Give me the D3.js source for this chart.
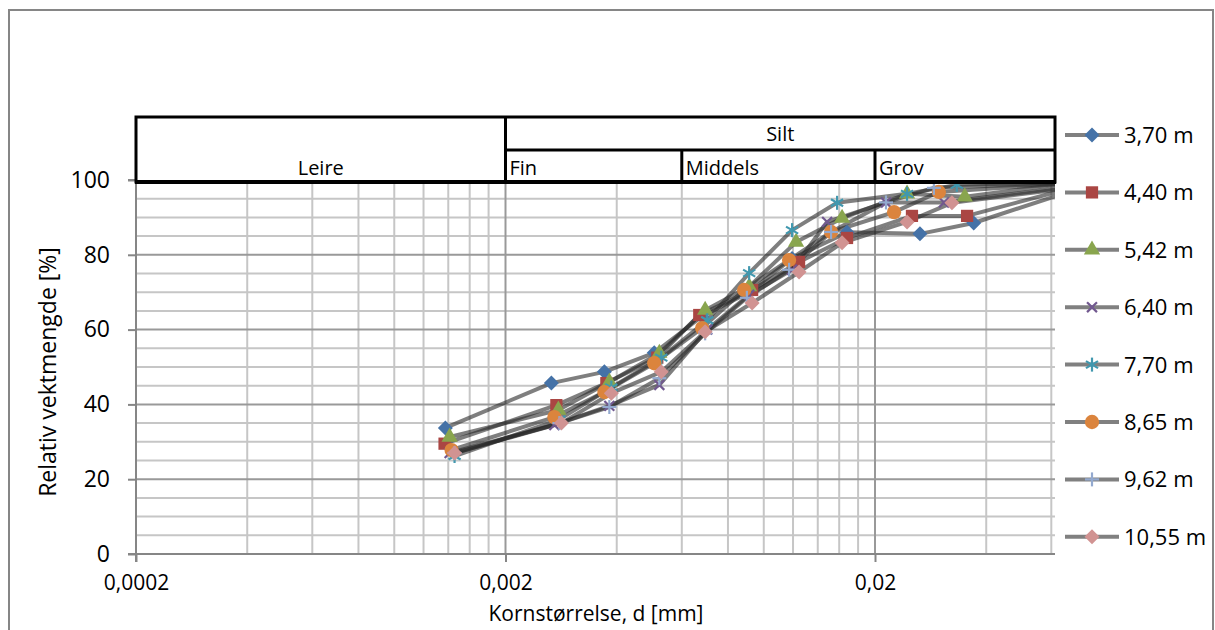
<!DOCTYPE html>
<html lang="no">
<head>
<meta charset="UTF-8">
<title>Kornfordeling</title>
<script src="https://d3js.org/d3.v7.min.js"></script>
<style>
    body { margin: 0; background: #fff; font-family: 'Open Sans', 'Liberation Sans', sans-serif; }
    svg text { fill: #000; }
</style>
</head>
<body>
<div id="chart"></div>
<script>
    // series names (depth)
    const seriesNames = ['3,70 m', '4,40 m', '5,42 m', '6,40 m', '7,70 m', '8,65 m', '9,62 m', '10,55 m'];

    // grain size [mm] per series
    const sizes370 = [0.001375, 0.002662, 0.003704, 0.005054, 0.00680, 0.00913, 0.01193, 0.01680, 0.02646, 0.0370, 0.063];
    const sizes440 = [0.001368, 0.002746, 0.003750, 0.005150, 0.00669, 0.00930, 0.01246, 0.01680, 0.02518, 0.0355, 0.063];
    const sizes542 = [0.001412, 0.002780, 0.003820, 0.005216, 0.00694, 0.00913, 0.01223, 0.01629, 0.02442, 0.0350, 0.063];
    const sizes640 = [0.001412, 0.002712, 0.003820, 0.005216, 0.00703, 0.00913, 0.01193, 0.01484, 0.02142, 0.03074, 0.063];
    const sizes770 = [0.001456, 0.002798, 0.003868, 0.005280, 0.00703, 0.00913, 0.01193, 0.01579, 0.02442, 0.0333, 0.063];
    const sizes865 = [0.001429, 0.002712, 0.003704, 0.005054, 0.00681, 0.00885, 0.01171, 0.01521, 0.02252, 0.02978, 0.063];
    const sizes962 = [0.001456, 0.002798, 0.003820, 0.005216, 0.00694, 0.00900, 0.01171, 0.01521, 0.02142, 0.02886, 0.063];
    const sizes1055 = [0.001456, 0.002834, 0.003868, 0.005280, 0.00694, 0.00930, 0.01246, 0.01629, 0.02442, 0.0323, 0.063];

    // relative mass passing [%]
    const pass370 = [33.7, 45.7, 48.7, 53.8, 63.5, 70.0, 79.0, 86.0, 85.6, 88.5, 96.0];
    const pass440 = [29.5, 39.8, 45.7, 52.5, 63.9, 70.6, 78.1, 84.5, 90.4, 90.4, 97.0];
    const pass542 = [31.3, 38.5, 46.0, 53.7, 65.2, 71.5, 83.4, 89.8, 96.3, 95.5, 98.8];
    const pass640 = [27.0, 34.5, 39.6, 45.2, 60.0, 69.3, 76.0, 88.8, 94.0, 94.0, 97.8];
    const pass770 = [26.2, 36.0, 44.5, 52.5, 62.5, 75.1, 86.6, 93.9, 96.3, 98.7, 99.3];
    const pass865 = [27.8, 36.6, 43.3, 51.0, 60.4, 70.6, 78.6, 86.1, 91.4, 96.8, 98.9];
    const pass962 = [27.0, 35.0, 39.3, 47.0, 59.0, 68.5, 76.0, 86.1, 94.0, 97.9, 99.0];
    const pass1055 = [27.0, 35.0, 43.0, 48.7, 59.4, 67.1, 75.4, 83.2, 88.8, 93.9, 97.5];

    const sizes = [sizes370, sizes440, sizes542, sizes640, sizes770, sizes865, sizes962, sizes1055];
    const passing = [pass370, pass440, pass542, pass640, pass770, pass865, pass962, pass1055];

    const colors = ['#4572A7', '#AA4643', '#89A54E', '#71588F', '#4198AF', '#DB843D', '#93A9CF', '#D19392'];
    const symbols = ['diamond', 'square', 'triangle', 'x', 'star', 'circle', 'plus', 'diamond'];

    // axis
    const xMin = 0.0002, xMax = 0.0614;
    const xTickValues = [0.0002, 0.002, 0.02];
    const xTickLabels = ['0,0002', '0,002', '0,02'];
    const yTickValues = [0, 20, 40, 60, 80, 100];

    // soil classes header
    const topCells = [{ label: 'Leire', from: 0.0002, to: 0.002 }, { label: 'Silt', from: 0.002, to: xMax }];
    const subCells = [{ label: 'Fin', from: 0.002, to: 0.006 }, { label: 'Middels', from: 0.006, to: 0.02 }, { label: 'Grov', from: 0.02, to: xMax }];

    const width = 1215, height = 630;
    const plot = { left: 136, right: 1055, top: 180, bottom: 554 };
    const fontMain = '23px';

    const svg = d3.select('#chart').append('svg')
        .attr('width', width)
        .attr('height', height);

    // chart frame
    svg.append('rect')
        .attr('x', 9).attr('y', 10)
        .attr('width', 1204).attr('height', 640)
        .attr('fill', 'none')
        .attr('stroke', '#868686')
        .attr('stroke-width', 2);

    const x = d3.scaleLog().domain([xMin, xMax]).range([plot.left, plot.right]);
    const y = d3.scaleLinear().domain([0, 100]).range([plot.bottom, plot.top]);

    // gridlines
    const minorX = [];
    [0.0002, 0.002, 0.02].forEach(b => {
        for (let k = 2; k <= 9; k++) {
            const v = b * k;
            if (v < xMax) minorX.push(v);
        }
    });
    const grid = svg.append('g');
    grid.selectAll('.hminor')
        .data(d3.range(5, 100, 5).filter(v => v % 20 !== 0))
        .enter().append('line')
        .attr('x1', plot.left).attr('x2', plot.right)
        .attr('y1', d => y(d)).attr('y2', d => y(d))
        .attr('stroke', '#c6c6c6').attr('stroke-width', 2);
    grid.selectAll('.vminor')
        .data(minorX)
        .enter().append('line')
        .attr('x1', d => x(d)).attr('x2', d => x(d))
        .attr('y1', plot.top).attr('y2', plot.bottom)
        .attr('stroke', '#c6c6c6').attr('stroke-width', 2);
    grid.selectAll('.hmajor')
        .data(yTickValues.slice(1))
        .enter().append('line')
        .attr('x1', plot.left).attr('x2', plot.right)
        .attr('y1', d => y(d)).attr('y2', d => y(d))
        .attr('stroke', '#999').attr('stroke-width', 2);
    grid.selectAll('.vmajor')
        .data(xTickValues.slice(1))
        .enter().append('line')
        .attr('x1', d => x(d)).attr('x2', d => x(d))
        .attr('y1', plot.top).attr('y2', plot.bottom)
        .attr('stroke', '#999').attr('stroke-width', 2);

    // axes
    const yAxis = d3.axisLeft(y).tickValues(yTickValues).tickSize(8).tickPadding(18);
    const gy = svg.append('g').attr('transform', `translate(${plot.left},0)`).call(yAxis);
    const xAxis = d3.axisBottom(x).tickValues(xTickValues).tickFormat((d, i) => xTickLabels[i]).tickSize(8).tickPadding(13);
    const gx = svg.append('g').attr('transform', `translate(0,${plot.bottom})`).call(xAxis);
    [gx, gy].forEach(g => {
        g.select('.domain').attr('stroke', '#868686').attr('stroke-width', 2);
        g.selectAll('.tick line').attr('stroke', '#868686').attr('stroke-width', 2);
        g.selectAll('.tick text').style('font-family', "'Open Sans', sans-serif").attr('fill', '#000');
    });
    gy.selectAll('.tick text').style('font-size', fontMain);
    gx.selectAll('.tick text').style('font-size', '21px');
    gy.select('.domain').attr('d', `M-8,${plot.top}H0V${plot.bottom}H-8`);
    gx.select('.domain').attr('d', `M${plot.left},8V0H${plot.right}`);

    // axis titles
    svg.append('text')
        .attr('transform', 'rotate(-90)')
        .attr('x', -372).attr('y', 56)
        .attr('text-anchor', 'middle')
        .style('font-size', fontMain)
        .text('Relativ vektmengde [%]');
    svg.append('text')
        .attr('x', 596).attr('y', 621)
        .attr('text-anchor', 'middle')
        .style('font-size', '21px')
        .text('Kornstørrelse, d [mm]');

    // series
    svg.append('clipPath').attr('id', 'clip')
        .append('rect')
        .attr('x', plot.left).attr('y', plot.top - 20)
        .attr('width', plot.right - plot.left).attr('height', plot.bottom - plot.top + 20);

    const line = d3.line().x(d => x(d[0])).y(d => y(d[1]));
    const symbolType = { square: d3.symbolSquare, triangle: d3.symbolTriangle, circle: d3.symbolCircle };
    const symbolSize = { square: 150, triangle: 115, circle: 160 };

    function drawMarker(g, sym, color) {
        if (sym === 'x' || sym === 'plus' || sym === 'star') {
            const r = 7;
            const angles = sym === 'x' ? [45, 135] : sym === 'plus' ? [0, 90] : [0, 60, 120];
            angles.forEach(a => {
                const rad = a * Math.PI / 180;
                g.append('line')
                    .attr('x1', -r * Math.sin(rad)).attr('y1', -r * Math.cos(rad))
                    .attr('x2', r * Math.sin(rad)).attr('y2', r * Math.cos(rad))
                    .attr('stroke', color).attr('stroke-width', 2.2);
            });
        } else if (sym === 'diamond') {
            const r = 7.5;
            g.append('path')
                .attr('d', `M0,${-r}L${r},0L0,${r}L${-r},0Z`)
                .attr('fill', color);
        } else {
            g.append('path')
                .attr('d', d3.symbol().type(symbolType[sym]).size(symbolSize[sym])())
                .attr('fill', color);
        }
    }

    const seriesData = seriesNames.map((name, i) => sizes[i].map((s, j) => [s, passing[i][j]]));

    const linesG = svg.append('g').attr('clip-path', 'url(#clip)');
    seriesData.forEach(pts => {
        linesG.append('path')
            .datum(pts)
            .attr('d', line)
            .attr('fill', 'none')
            .attr('stroke', '#2a2a2a')
            .attr('stroke-opacity', 0.6)
            .attr('stroke-width', 4)
            .attr('stroke-linejoin', 'round');
    });

    seriesData.forEach((pts, i) => {
        pts.filter(d => d[0] <= xMax).forEach(d => {
            const g = svg.append('g').attr('transform', `translate(${x(d[0])},${y(d[1])})`);
            drawMarker(g, symbols[i], colors[i]);
        });
    });

    // soil class header
    const head = svg.append('g');
    const headTop = 117, headMid = 150, headBottom = 182;
    const headFont = '20px';
    head.append('rect')
        .attr('x', plot.left).attr('y', headTop)
        .attr('width', plot.right - plot.left).attr('height', headBottom - headTop)
        .attr('fill', '#fff');
    head.append('line')
        .attr('x1', x(0.002)).attr('x2', plot.right)
        .attr('y1', headMid).attr('y2', headMid)
        .attr('stroke', '#000').attr('stroke-width', 3);
    head.selectAll('.sub')
        .data(subCells.slice(1))
        .enter().append('line')
        .attr('x1', d => x(d.from)).attr('x2', d => x(d.from))
        .attr('y1', headMid).attr('y2', headBottom)
        .attr('stroke', '#000').attr('stroke-width', 3);
    head.append('line')
        .attr('x1', x(0.002)).attr('x2', x(0.002))
        .attr('y1', headTop).attr('y2', headBottom)
        .attr('stroke', '#000').attr('stroke-width', 3);
    head.append('rect')
        .attr('x', plot.left).attr('y', headTop)
        .attr('width', plot.right - plot.left).attr('height', headBottom - headTop)
        .attr('fill', 'none')
        .attr('stroke', '#000').attr('stroke-width', 3);
    head.append('line')
        .attr('x1', plot.left - 1).attr('x2', plot.right + 1)
        .attr('y1', headBottom).attr('y2', headBottom)
        .attr('stroke', '#000').attr('stroke-width', 4);

    head.append('text')
        .attr('x', (x(topCells[0].from) + x(topCells[0].to)) / 2).attr('y', 175)
        .attr('text-anchor', 'middle').style('font-size', headFont)
        .text(topCells[0].label);
    head.append('text')
        .attr('x', (x(topCells[1].from) + x(topCells[1].to)) / 2).attr('y', 141)
        .attr('text-anchor', 'middle').style('font-size', headFont)
        .text(topCells[1].label);
    head.selectAll('.sublabel')
        .data(subCells)
        .enter().append('text')
        .attr('x', d => x(d.from) + 4).attr('y', 175)
        .style('font-size', headFont)
        .text(d => d.label);

    // legend
    const legend = svg.append('g');
    seriesNames.forEach((name, i) => {
        const g = legend.append('g').attr('transform', `translate(1065,${135 + i * 57.4})`);
        g.append('line')
            .attr('x1', 0).attr('x2', 54)
            .attr('stroke', '#808080').attr('stroke-width', 4);
        const m = g.append('g').attr('transform', 'translate(27,0)');
        drawMarker(m, symbols[i], colors[i]);
        g.append('text')
            .attr('x', 59).attr('y', 8)
            .style('font-size', '22px')
            .text(name);
    });
</script>
</body>
</html>
